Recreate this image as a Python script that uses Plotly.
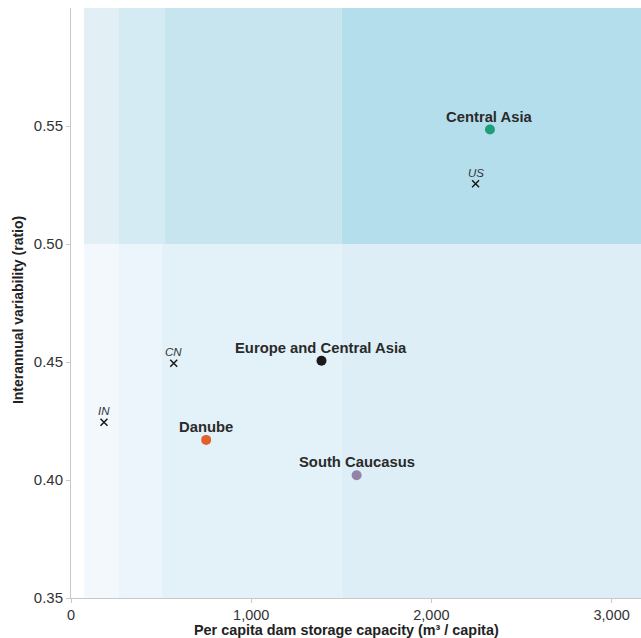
import plotly.graph_objects as go

# Region points
regions = ["Central Asia", "Europe and Central Asia", "Danube", "South Caucasus"]
region_x = [2325, 1390, 750, 1585]
region_y = [0.5485, 0.4505, 0.417, 0.402]
region_colors = ["#1d9e78", "#1a1a1a", "#e0612a", "#9283ab"]

# Country reference points
countries = ["US", "CN", "IN"]
country_x = [2245, 570, 183]
country_y = [0.5255, 0.4495, 0.4245]

# Background bands (x edges) and variability threshold
band_edges_low = [72, 266, 505, 1502, 3200]
band_edges_high = [72, 266, 522, 1502, 3200]
threshold = 0.50
y_min, y_max = 0.35, 0.60
colors_high = ["#e2f0f6", "#d4ebf3", "#c7e5ef", "#b4deeb"]
colors_low = ["#f3f8fc", "#edf5fc", "#e3f1f9", "#ddeef6"]

x_title = "Per capita dam storage capacity (m³ / capita)"
y_title = "Interannual variability (ratio)"

FONT = "Liberation Sans, Arial, sans-serif"

fig = go.Figure()

shapes = []
for i in range(4):
    shapes.append(dict(type="rect", xref="x", yref="y", layer="below",
                       x0=band_edges_low[i], x1=band_edges_low[i + 1],
                       y0=y_min, y1=threshold, fillcolor=colors_low[i], line_width=0))
    shapes.append(dict(type="rect", xref="x", yref="y", layer="below",
                       x0=band_edges_high[i], x1=band_edges_high[i + 1],
                       y0=threshold, y1=y_max, fillcolor=colors_high[i], line_width=0))

annotations = []
for name, x, y, c in zip(regions, region_x, region_y, region_colors):
    fig.add_trace(go.Scatter(
        x=[x], y=[y], mode="markers",
        marker=dict(size=10, color=c), showlegend=False, hoverinfo="skip"))
    annotations.append(dict(x=x, y=y, xref="x", yref="y", text=f"<b>{name}</b>",
                            showarrow=False, yanchor="middle", yshift=13,
                            font=dict(family=FONT, size=14.8, color="#2a2a2a")))

fig.add_trace(go.Scatter(
    x=country_x, y=country_y, mode="markers",
    marker=dict(symbol="x-thin", size=7, line=dict(width=1.5, color="#1a1a1a")),
    showlegend=False, hoverinfo="skip"))
for name, x, y in zip(countries, country_x, country_y):
    annotations.append(dict(x=x, y=y, xref="x", yref="y", text=f"<i>{name}</i>",
                            showarrow=False, yanchor="middle", yshift=11,
                            font=dict(family=FONT, size=11.5, color="#333333")))

# axis titles as annotations (positioned like the reference)
annotations.append(dict(x=0.4825, y=0, xref="paper", yref="paper", text=f"<b>{x_title}</b>",
                        showarrow=False, yanchor="middle", yshift=-32,
                        font=dict(family=FONT, size=14.4, color="#222222")))
annotations.append(dict(x=0, y=0.488, xref="paper", yref="paper", text=f"<b>{y_title}</b>",
                        showarrow=False, textangle=-90, xanchor="center", xshift=-53,
                        font=dict(family=FONT, size=14, color="#222222")))

fig.update_layout(
    width=641, height=638,
    margin=dict(l=71, r=0, t=8, b=40),
    paper_bgcolor="white", plot_bgcolor="white",
    shapes=shapes, annotations=annotations,
    font=dict(family=FONT, size=15, color="#333333"),
    xaxis=dict(range=[0, 3163], tickvals=[0, 1000, 2000, 3000],
               ticktext=["0", "1,000", "2,000", "3,000"],
               showgrid=False, zeroline=False, showline=True, linecolor="#c8c8c8",
               linewidth=1, ticks="outside", ticklen=4, tickcolor="#c8c8c8",
               tickfont=dict(size=14.5, color="#333333")),
    yaxis=dict(range=[y_min, y_max], tickvals=[0.35, 0.40, 0.45, 0.50, 0.55],
               ticktext=["0.35", "0.40", "0.45", "0.50", "0.55"],
               showgrid=False, zeroline=False, showline=True, linecolor="#c8c8c8",
               linewidth=1, ticks="outside", ticklen=4, tickcolor="#c8c8c8",
               tickfont=dict(size=15, color="#333333")),
)

fig.write_html("out.html", config={"displayModeBar": False})

# remove default page margins so the figure sits at the window origin
with open("out.html", "r", encoding="utf-8") as f:
    html = f.read()
html = html.replace("<head>", "<head><style>html,body{margin:0;padding:0;overflow:hidden}</style>", 1)
with open("out.html", "w", encoding="utf-8") as f:
    f.write(html)
